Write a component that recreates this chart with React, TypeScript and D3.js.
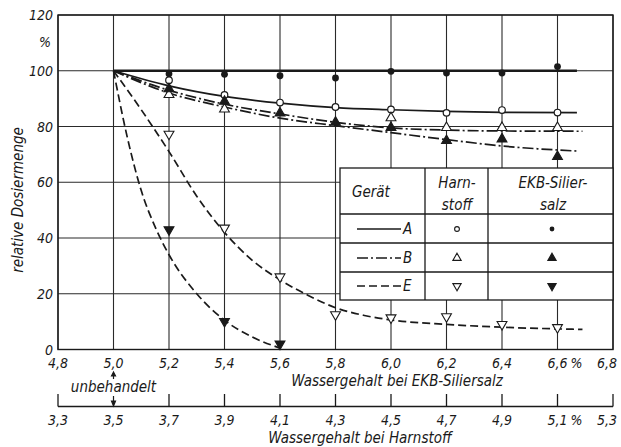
import React from "react";
import * as d3 from "d3";

// x positions where the points were measured (EKB scale)
const pointX = [5.2, 5.4, 5.6, 5.8, 6.0, 6.2, 6.4, 6.6];

// markers (relative Dosiermenge, %)
const aHarnstoff = [96.6, 91.3, 88.6, 87.0, 86.1, 84.9, 85.9, 85.0];
const aSiliersalz = [98.9, 98.7, 98.2, 97.4, 99.8, 99.2, 99.2, 101.5];
const bHarnstoff = [91.4, 86.2, null, null, 83.1, 79.6, 79.6, 79.6];
const bSiliersalz = [93.5, 89.0, 84.8, 81.5, 79.6, 74.9, 75.5, 69.2];
const eHarnstoff = [77.3, 43.6, 26.1, 12.5, 11.4, 11.8, 9.0, 7.9];
const eSiliersalz = [43.0, 10.1, 2.0, null, null, null, null, null];

// hand drawn curves
const aCurveX = [5.0, 5.2, 5.4, 5.6, 5.8, 6.0, 6.2, 6.4, 6.67];
const aCurveY = [100, 94.6, 90.8, 88.4, 86.8, 86, 85.4, 85.1, 85];
const aFlatX = [5.0, 6.67];
const aFlatY = [100, 100];
const bHarnCurveX = [5.0, 5.2, 5.4, 5.6, 5.8, 6.0, 6.2, 6.4, 6.69];
const bHarnCurveY = [100, 93, 88, 84.5, 81.5, 79.5, 78.7, 78.4, 78.3];
const bEkbCurveX = [5.0, 5.2, 5.4, 5.6, 5.8, 6.0, 6.2, 6.4, 6.67];
const bEkbCurveY = [100, 92, 87, 83, 80.3, 77.8, 75.3, 73, 71.2];
const eHarnCurveX = [5.0, 5.1, 5.2, 5.3, 5.4, 5.5, 5.6, 5.7, 5.8, 5.9, 6.0, 6.2, 6.4, 6.69];
const eHarnCurveY = [100, 86, 71, 55, 42, 32, 25, 19.5, 15, 12.3, 10.6, 9, 8, 7.2];
const eEkbCurveX = [5.0, 5.05, 5.1, 5.15, 5.2, 5.3, 5.4, 5.5, 5.6];
const eEkbCurveY = [100, 76, 57, 44, 34, 20, 10.5, 4.5, 0.5];

// axes
const yTicks = [0, 20, 40, 60, 80, 100, 120];
const xTicks = [4.8, 5.0, 5.2, 5.4, 5.6, 5.8, 6.0, 6.2, 6.4, 6.6, 6.8];
const xTickLabels = ["4,8", "5,0", "5,2", "5,4", "5,6", "5,8", "6,0", "6,2", "6,4", "6,6", "6,8"];
const x2Ticks = [3.3, 3.5, 3.7, 3.9, 4.1, 4.3, 4.5, 4.7, 4.9, 5.1, 5.3];
const x2TickLabels = ["3,3", "3,5", "3,7", "3,9", "4,1", "4,3", "4,5", "4,7", "4,9", "5,1", "5,3"];

const font = "'Liberation Sans Narrow', 'DejaVu Sans Condensed', 'Roboto Condensed', sans-serif";
const ink = "#1a1a1a";
const DASH = "8 4";
const DASHDOT = "11 3 2 3";

const App = () => {
  const x = d3.scaleLinear().domain([4.8, 6.8]).range([58, 613]);
  const x2 = d3.scaleLinear().domain([3.3, 5.3]).range([58, 613]);
  const y = d3.scaleLinear().domain([0, 120]).range([349.5, 15]);

  const line = d3.line<[number, number]>()
    .x(d => x(d[0]))
    .y(d => y(d[1]))
    .curve(d3.curveMonotoneX);
  const path = (xs: number[], ys: number[]) => line(xs.map((v, i) => [v, ys[i]] as [number, number])) || "";

  const tri = d3.symbol().type(d3.symbolTriangle).size(42)() || "";
  const triSmall = d3.symbol().type(d3.symbolTriangle).size(30)() || "";

  const marks = (vals: (number | null)[], kind: string) =>
    vals.map((v, i) => {
      if (v === null) return null;
      const cx = x(pointX[i]);
      const cy = y(v);
      if (kind === "circle") return <circle key={i} cx={cx} cy={cy} r={3.3} fill="#fff" stroke={ink} strokeWidth={1.2} />;
      if (kind === "dot") return <circle key={i} cx={cx} cy={cy} r={3.4} fill={ink} />;
      const down = kind.endsWith("Down");
      const filled = kind.startsWith("fill");
      return (
        <path key={i} d={tri} transform={`translate(${cx},${cy})${down ? " rotate(180)" : ""}`}
          fill={filled ? ink : "#fff"} stroke={ink} strokeWidth={1.1} />
      );
    });

  const tx = { fontFamily: font, fontStyle: "italic", fill: ink } as React.CSSProperties;

  // legend table geometry
  const L = { x0: 340, x1: 425, x2: 488, x3: 613, y0: 168, y1: 214, y2: 243, y3: 272, y4: 300 };
  const rows = [
    { label: "A", dash: "none", cy: 229, harn: "circle", ekb: "dot" },
    { label: "B", dash: DASHDOT, cy: 258, harn: "openUp", ekb: "fillUp" },
    { label: "E", dash: DASH, cy: 286, harn: "openDown", ekb: "fillDown" },
  ];
  const legendMark = (kind: string, cx: number, cy: number) => {
    if (kind === "circle") return <circle cx={cx} cy={cy} r={2.4} fill="#fff" stroke={ink} strokeWidth={1.1} />;
    if (kind === "dot") return <circle cx={cx} cy={cy} r={2.4} fill={ink} />;
    const down = kind.endsWith("Down");
    return <path d={triSmall} transform={`translate(${cx},${cy})${down ? " rotate(180)" : ""}`}
      fill={kind.startsWith("fill") ? ink : "#fff"} stroke={ink} strokeWidth={1.1} />;
  };

  // keep the last tick label inside the page
  const tickX = (px: number) => Math.min(px, 607);

  return (
    <svg width={621} height={447} style={{ position: "absolute", left: 0, top: 0, background: "#fff" }}>
      {/* grid */}
      <g stroke="#2a2a2a" strokeWidth={1.1}>
        {yTicks.map(t => <line key={"h" + t} x1={x(4.8)} x2={x(6.8)} y1={y(t)} y2={y(t)} />)}
        {xTicks.map(t => <line key={"v" + t} x1={x(t)} x2={x(t)} y1={y(0)} y2={y(120)} />)}
      </g>
      <rect x={x(4.8)} y={y(120)} width={x(6.8) - x(4.8)} height={y(0) - y(120)} fill="none" stroke={ink} strokeWidth={1.4} />

      {/* curves */}
      <g fill="none" stroke={ink}>
        <path d={path(aFlatX, aFlatY)} strokeWidth={2.6} />
        <path d={path(aCurveX, aCurveY)} strokeWidth={1.7} />
        <path d={path(bHarnCurveX, bHarnCurveY)} strokeWidth={1.7} strokeDasharray={DASHDOT} />
        <path d={path(bEkbCurveX, bEkbCurveY)} strokeWidth={1.7} strokeDasharray={DASHDOT} />
        <path d={path(eHarnCurveX, eHarnCurveY)} strokeWidth={1.7} strokeDasharray={DASH} />
        <path d={path(eEkbCurveX, eEkbCurveY)} strokeWidth={1.7} strokeDasharray={DASH} />
      </g>

      {/* markers */}
      {marks(aSiliersalz, "dot")}
      {marks(aHarnstoff, "circle")}
      {marks(bHarnstoff, "openUp")}
      {marks(bSiliersalz, "fillUp")}
      {marks(eHarnstoff, "openDown")}
      {marks(eSiliersalz, "fillDown")}

      {/* legend table */}
      <g stroke={ink} strokeWidth={1.3}>
        <rect x={L.x0} y={L.y0} width={L.x3 - L.x0} height={L.y4 - L.y0} fill="#fff" />
        <line x1={L.x1} x2={L.x1} y1={L.y0} y2={L.y4} />
        <line x1={L.x2} x2={L.x2} y1={L.y0} y2={L.y4} />
        {[L.y1, L.y2, L.y3].map(v => <line key={v} x1={L.x0} x2={L.x3} y1={v} y2={v} />)}
      </g>
      <text x={352} y={197} fontSize={15} style={tx}>Gerät</text>
      <text x={457} y={188} fontSize={15} textAnchor="middle" style={tx}>Harn-</text>
      <text x={457} y={210} fontSize={15} textAnchor="middle" style={tx}>stoff</text>
      <text x={553} y={188} fontSize={15} textAnchor="middle" style={tx}>EKB-Silier-</text>
      <text x={553} y={210} fontSize={15} textAnchor="middle" style={tx}>salz</text>
      {rows.map(r => (
        <g key={r.label}>
          <line x1={357} x2={401} y1={r.cy} y2={r.cy} stroke={ink} strokeWidth={1.6}
            strokeDasharray={r.dash === "none" ? undefined : r.dash} />
          <text x={403} y={r.cy + 5} fontSize={15} style={tx}>{r.label}</text>
          {legendMark(r.harn, 457, r.cy)}
          {legendMark(r.ekb, 552, r.cy)}
        </g>
      ))}

      {/* y axis labels */}
      {yTicks.map(t => (
        <text key={t} x={53} y={y(t) + 5} fontSize={14} textAnchor="end" style={tx}>{t}</text>
      ))}
      <text x={45} y={47} fontSize={14} textAnchor="middle" style={tx}>%</text>
      <text transform="translate(23,200) rotate(-90)" fontSize={15} textAnchor="middle" style={tx}>relative Dosiermenge</text>

      {/* upper x axis labels */}
      {xTicks.map((t, i) => (
        <text key={t} x={tickX(x(t))} y={368} fontSize={14} textAnchor="middle" style={tx}>{xTickLabels[i]}</text>
      ))}
      <text x={x(6.6) + 13} y={368} fontSize={14} style={tx}>%</text>
      <text x={397} y={386} fontSize={15} textAnchor="middle" style={tx}>Wassergehalt bei EKB-Siliersalz</text>
      <text x={x(5.0)} y={392} fontSize={15} textAnchor="middle" style={tx}>unbehandelt</text>

      {/* unbehandelt arrows */}
      <g stroke={ink} fill={ink} strokeWidth={1.2}>
        <line x1={x(5.0)} x2={x(5.0)} y1={374} y2={379} />
        <path d={`M${x(5.0) - 2},${376} L${x(5.0)},${372} L${x(5.0) + 2},${376} Z`} />
        <line x1={x(5.0)} x2={x(5.0)} y1={396} y2={402} />
        <path d={`M${x(5.0) - 2},${401} L${x(5.0)},${406} L${x(5.0) + 2},${401} Z`} />
      </g>

      {/* lower (Harnstoff) axis */}
      <g stroke={ink} strokeWidth={1.3}>
        <line x1={x2(3.3)} x2={x2(5.3)} y1={406.5} y2={406.5} />
        {x2Ticks.filter(t => t !== 3.5).map(t => (
          <line key={t} x1={x2(t)} x2={x2(t)} y1={394} y2={406.5} />
        ))}
      </g>
      {x2Ticks.map((t, i) => (
        <text key={t} x={tickX(x2(t))} y={425} fontSize={14} textAnchor="middle" style={tx}>{x2TickLabels[i]}</text>
      ))}
      <text x={x2(5.1) + 13} y={425} fontSize={14} style={tx}>%</text>
      <text x={360} y={443} fontSize={15} textAnchor="middle" style={tx}>Wassergehalt bei Harnstoff</text>
    </svg>
  );
};

export default App;
